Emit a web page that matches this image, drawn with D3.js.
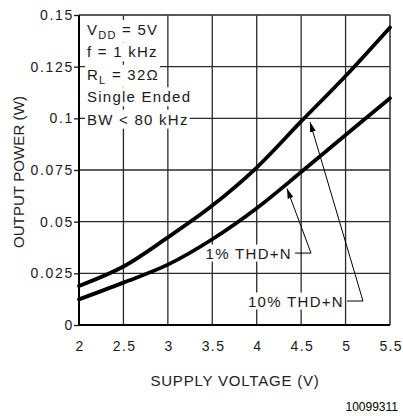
<!DOCTYPE html>
<html>
<head>
<meta charset="utf-8">
<script src="https://cdn.jsdelivr.net/npm/d3@7/dist/d3.min.js"></script>
<style>
  html, body { margin: 0; padding: 0; background: #fff; }
  svg { display: block; font-family: "Liberation Sans", Arial, sans-serif; }
</style>
</head>
<body>
<svg id="chart" width="403" height="416"></svg>
<script>
// Supply voltage (V) sampled along the x axis
const supplyVoltage = [2, 2.5, 3, 3.5, 4, 4.5, 5, 5.5];
// Output power (W) at 10% THD+N and at 1% THD+N
const power10 = [0.0189, 0.0283, 0.0424, 0.0578, 0.0762, 0.0985, 0.1205, 0.1440];
const power1  = [0.0124, 0.0205, 0.0292, 0.0415, 0.0565, 0.0740, 0.0919, 0.1097];

// Axis ticks and labels
const xTicks = [2, 2.5, 3, 3.5, 4, 4.5, 5, 5.5];
const xTickLabels = ["2", "2.5", "3", "3.5", "4", "4.5", "5", "5.5"];
const yTicks = [0, 0.025, 0.05, 0.075, 0.1, 0.125, 0.15];
const yTickLabels = ["0", "0.025", "0.05", "0.075", "0.1", "0.125", "0.15"];

// Test conditions printed in the corner of the plot
const conditionLines = [
  [["V", 0], ["DD", 1], [" = 5V", 0]],
  [["f = 1 kHz", 0]],
  [["R", 0], ["L", 1], [" = 32\u03A9", 0]],
  [["Single Ended", 0]],
  [["BW < 80 kHz", 0]]
];

// Curve callouts: label, elbow of the leader and arrow tip (data units)
const callouts = [
  { label: "1% THD+N",  elbow: [4.611, 0.0348], tip: [4.341, 0.0660] },
  { label: "10% THD+N", elbow: [5.196, 0.0116], tip: [4.600, 0.0982] }
];

const svg = d3.select("#chart");
const ink = "#1a1a1a";

const x = d3.scaleLinear().domain([2, 5.5]).range([79, 390]);
const y = d3.scaleLinear().domain([0, 0.15]).range([325, 15]);

// grid
const grid = svg.append("g").attr("stroke", "#2a2a2a").attr("stroke-width", 1.3);
grid.selectAll(".gx").data(xTicks.slice(1)).join("line")
  .attr("x1", d => x(d)).attr("x2", d => x(d))
  .attr("y1", y(0)).attr("y2", y(0.15));
grid.selectAll(".gy").data(yTicks.slice(1)).join("line")
  .attr("x1", x(2)).attr("x2", x(5.5))
  .attr("y1", d => y(d)).attr("y2", d => y(d));

// left axis with short outward ticks
const yAxis = d3.axisLeft(y).tickValues(yTicks).tickSize(5).tickFormat((d, i) => yTickLabels[i]);
const yg = svg.append("g").attr("transform", `translate(${x(2)},0)`).call(yAxis);
yg.select(".domain").remove();
yg.selectAll(".tick line").attr("stroke", ink).attr("stroke-width", 1.3);
yg.selectAll(".tick text")
  .attr("x", -5).attr("fill", ink)
  .style("font-size", "14px").style("letter-spacing", "1.7px")
  .style("font-family", "Liberation Sans, Arial, sans-serif");

// bottom axis labels only
const xAxis = d3.axisBottom(x).tickValues(xTicks).tickSize(0).tickFormat((d, i) => xTickLabels[i]);
const xg = svg.append("g").attr("transform", `translate(0,${y(0)})`).call(xAxis);
xg.select(".domain").remove();
xg.selectAll(".tick text")
  .attr("y", 16).attr("dx", "0.7px").attr("fill", ink)
  .style("font-size", "14px").style("letter-spacing", "1.4px")
  .style("font-family", "Liberation Sans, Arial, sans-serif");

// frame: heavy left/bottom, lighter top/right
svg.append("line").attr("x1", x(5.5)).attr("x2", x(5.5)).attr("y1", y(0)).attr("y2", y(0.15))
  .attr("stroke", "#555").attr("stroke-width", 1.2);
svg.append("line").attr("x1", x(2)).attr("x2", x(5.5)).attr("y1", y(0.15)).attr("y2", y(0.15))
  .attr("stroke", "#555").attr("stroke-width", 1.2);
svg.append("line").attr("x1", x(2)).attr("x2", x(2)).attr("y1", y(0)).attr("y2", y(0.15))
  .attr("stroke", "#000").attr("stroke-width", 2);
svg.append("line").attr("x1", x(2)).attr("x2", x(5.5)).attr("y1", y(0)).attr("y2", y(0))
  .attr("stroke", "#000").attr("stroke-width", 2);

// condition block, each line knocked out of the grid with a white box
const boxLayer = svg.append("g");
const textLayer = svg.append("g");
const condG = textLayer.append("g").attr("fill", ink);
conditionLines.forEach((parts, i) => {
  const t = condG.append("text")
    .attr("x", 87).attr("y", 35 + i * 22.4)
    .style("font-size", "15px").style("letter-spacing", "1.25px");
  let shift = 0;
  parts.forEach(([s, sub]) => {
    const ts = t.append("tspan").text(s);
    const target = sub ? 4 : 0;
    if (target !== shift) ts.attr("dy", target - shift);
    shift = target;
    if (sub) ts.style("font-size", "11px");
  });
  const b = t.node().getBBox();
  boxLayer.append("rect")
    .attr("x", b.x - 2).attr("y", b.y - 1)
    .attr("width", b.width + 3).attr("height", b.height + 2)
    .attr("fill", "#fff");
});

// curves
const line = d3.line()
  .x((d, i) => x(supplyVoltage[i]))
  .y(d => y(d))
  .curve(d3.curveCatmullRom.alpha(0.5));
svg.append("g").selectAll("path").data([power10, power1]).join("path")
  .attr("d", line)
  .attr("fill", "none").attr("stroke", "#000").attr("stroke-width", 3.8)
  .attr("stroke-linecap", "round");

// callouts: label, short leader, then arrow to the curve
const defs = svg.append("defs");
defs.append("marker")
  .attr("id", "arrowhead").attr("markerUnits", "userSpaceOnUse")
  .attr("viewBox", "0 0 10 6").attr("refX", 10).attr("refY", 3)
  .attr("markerWidth", 10).attr("markerHeight", 6).attr("orient", "auto")
  .append("path").attr("d", "M0,0L10,3L0,6Z").attr("fill", "#000");

const callG = svg.append("g");
callouts.forEach(c => {
  const ex = x(c.elbow[0]), ey = y(c.elbow[1]);
  const txt = textLayer.append("text")
    .attr("x", ex - 19).attr("y", ey + 5.5)
    .attr("text-anchor", "end").attr("fill", ink)
    .style("font-size", "15px").style("letter-spacing", "1.3px")
    .text(c.label);
  const b = txt.node().getBBox();
  boxLayer.append("rect")
    .attr("x", b.x - 2).attr("y", b.y)
    .attr("width", b.width + 2).attr("height", b.height)
    .attr("fill", "#fff");
  callG.append("line")
    .attr("x1", ex - 16).attr("x2", ex).attr("y1", ey).attr("y2", ey)
    .attr("stroke", "#000").attr("stroke-width", 1);
  callG.append("line")
    .attr("x1", ex).attr("y1", ey)
    .attr("x2", x(c.tip[0])).attr("y2", y(c.tip[1]))
    .attr("stroke", "#000").attr("stroke-width", 1)
    .attr("marker-end", "url(#arrowhead)");
});
textLayer.raise();

// axis titles
svg.append("text")
  .attr("x", (x(2) + x(5.5)) / 2 + 0.5).attr("y", 386)
  .attr("text-anchor", "middle").attr("fill", "#222")
  .style("font-size", "15px").style("letter-spacing", "0.8px")
  .text("SUPPLY VOLTAGE (V)");
svg.append("text")
  .attr("transform", "translate(24,172) rotate(-90)")
  .attr("text-anchor", "middle").attr("fill", "#222")
  .style("font-size", "15px").style("letter-spacing", "0.1px")
  .text("OUTPUT POWER (W)");

// figure number
svg.append("text")
  .attr("x", 398).attr("y", 411)
  .attr("text-anchor", "end").attr("fill", "#000")
  .style("font-size", "12px")
  .text("10099311");
</script>
</body>
</html>
